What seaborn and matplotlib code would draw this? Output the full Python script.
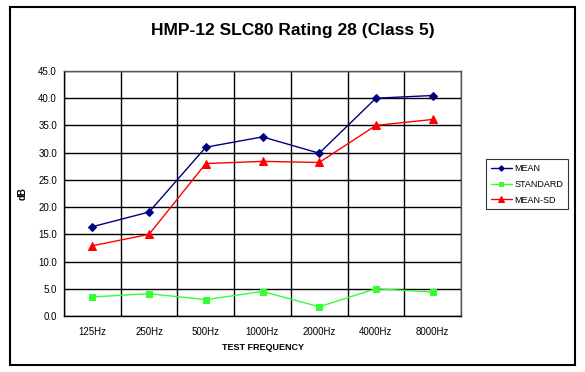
import pandas as pd
import matplotlib
matplotlib.use("Agg")
import matplotlib.pyplot as plt
import seaborn as sns
from matplotlib.patches import Rectangle

# dados
frequencias = ['125Hz', '250Hz', '500Hz', '1000Hz', '2000Hz', '4000Hz', '8000Hz']
mean = [16.4, 19.1, 31.0, 32.9, 29.9, 40.0, 40.5]
standard = [3.5, 4.1, 3.0, 4.5, 1.7, 5.0, 4.4]
mean_sd = [12.9, 15.0, 28.0, 28.4, 28.2, 35.0, 36.1]

series = ['MEAN', 'STANDARD', 'MEAN-SD']
cores = {'MEAN': '#000080', 'STANDARD': '#33ff33', 'MEAN-SD': '#ff0000'}
marcadores = {'MEAN': 'D', 'STANDARD': 's', 'MEAN-SD': '^'}
tamanhos = {'MEAN': 4, 'STANDARD': 5, 'MEAN-SD': 5.5}

df = pd.DataFrame({
    'freq': frequencias * 3,
    'pos': list(range(len(frequencias))) * 3,
    'valor': mean + standard + mean_sd,
    'serie': ['MEAN'] * 7 + ['STANDARD'] * 7 + ['MEAN-SD'] * 7,
})

sns.set_style('white')
plt.rcParams['font.family'] = ['Liberation Sans', 'DejaVu Sans']
plt.rcParams['text.color'] = 'black'
plt.rcParams['xtick.color'] = 'black'
plt.rcParams['ytick.color'] = 'black'
plt.rcParams['axes.labelcolor'] = 'black'

fig = plt.figure(figsize=(5.85, 3.72), dpi=100)
ax = fig.add_axes([64 / 585, 1 - 316 / 372, 397 / 585, 245 / 372])

for s in series:
    d = df[df['serie'] == s]
    sns.lineplot(data=d, x='pos', y='valor', ax=ax, color=cores[s], marker=marcadores[s],
                 markersize=tamanhos[s], markeredgecolor=cores[s], linewidth=1, label=s)

ax.set_xlim(-0.5, 6.5)
ax.set_ylim(0, 45)
ax.set_yticks([i * 5 for i in range(10)])
ax.set_yticklabels([f'{i * 5:.1f}' for i in range(10)], fontsize=7)
ax.set_xticks(range(7))
ax.set_xticklabels(frequencias, fontsize=7)
ax.set_xticks([i - 0.5 for i in range(8)], minor=True)
ax.tick_params(axis='x', which='major', length=0, pad=8)
ax.tick_params(axis='x', which='minor', length=3, color='black', direction='out')
ax.tick_params(axis='y', length=3, color='black', direction='out', pad=2)

ax.grid(False)
ax.grid(True, which='major', axis='y', color='black', linewidth=1)
ax.grid(True, which='minor', axis='x', color='black', linewidth=1)
for lado in ax.spines.values():
    lado.set_color('#555555')
    lado.set_linewidth(1)
ax.spines['left'].set_color('black')
ax.spines['bottom'].set_color('black')

ax.set_xlabel('TEST FREQUENCY', fontsize=6.5, fontweight='bold', labelpad=4)
ax.set_ylabel('dB', fontsize=7, fontweight='bold', labelpad=8)

fig.text(0.5, 1 - 31 / 372, 'HMP-12 SLC80 Rating 28 (Class 5)', ha='center', va='center',
         fontsize=12.5, fontweight='bold')

leg = ax.legend(loc='upper left', bbox_to_anchor=(486 / 585, 1 - 159 / 372),
                bbox_transform=fig.transFigure, fontsize=6.5, frameon=True, fancybox=False,
                handlelength=2.3, borderpad=0.55, labelspacing=0.75, handletextpad=0.3,
                markerscale=0.7, borderaxespad=0)
leg.get_frame().set_edgecolor('black')
leg.get_frame().set_linewidth(0.8)

fig.patches.append(Rectangle((10 / 585, 1 - 365 / 372), 565 / 585, 358 / 372, transform=fig.transFigure,
                             fill=False, edgecolor='black', linewidth=1.5))

plt.savefig('out.png', dpi=100)
